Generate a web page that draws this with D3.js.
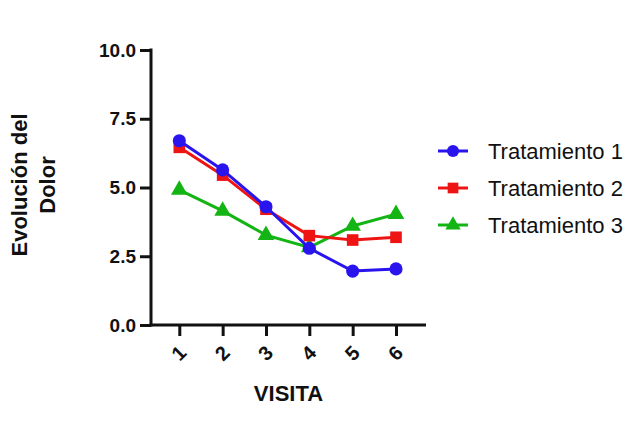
<!DOCTYPE html>
<html><head><meta charset="utf-8">
<script src="https://cdn.jsdelivr.net/npm/d3@7"></script>
<style>
body{margin:0;background:#fff;}
text{font-family:"Liberation Sans",Arial,sans-serif;}
</style></head>
<body>
<svg id="c" width="632" height="446"></svg>
<script>
const visits = [1, 2, 3, 4, 5, 6];
const seriesNames = ["Tratamiento 1", "Tratamiento 2", "Tratamiento 3"];
const t1 = [6.70, 5.64, 4.30, 2.79, 1.96, 2.04];
const t2 = [6.46, 5.45, 4.21, 3.25, 3.09, 3.19];
const t3 = [4.91, 4.15, 3.27, 2.82, 3.60, 4.03];
const yTicks = [0, 2.5, 5, 7.5, 10];
const colors = ["#2a14ee", "#ee1414", "#14b414"];
const symbols = [d3.symbolCircle, d3.symbolSquare, d3.symbolTriangle];
const symSizes = [135, 135, 120];

const svg = d3.select("#c");
const x = d3.scaleLinear().domain([1, 6]).range([179.3, 396]);
const y = d3.scaleLinear().domain([0, 10]).range([325, 50]);
const axisLeft = 151, axisRight = 426;

// y axis
const ya = svg.append("g").attr("transform", `translate(${axisLeft},0)`)
  .call(d3.axisLeft(y).tickValues(yTicks).tickFormat(d3.format(".1f")).tickSize(11).tickPadding(4));
ya.select(".domain").remove();
ya.append("line").attr("x1", 0).attr("x2", 0).attr("y1", y(10) - 1.5).attr("y2", y(0) + 1.5)
  .attr("stroke", "#111").attr("stroke-width", 3);
ya.selectAll(".tick line").attr("stroke", "#111").attr("stroke-width", 3);
ya.selectAll(".tick text").attr("font-size", 19).attr("font-weight", "bold").attr("fill", "#111");

// x axis
const xa = svg.append("g").attr("transform", `translate(0,${y(0)})`)
  .call(d3.axisBottom(x).tickValues(visits).tickFormat(d3.format("d")).tickSize(11).tickPadding(4));
xa.select(".domain").remove();
xa.append("line").attr("x1", axisLeft - 1.5).attr("x2", axisRight).attr("y1", 0).attr("y2", 0)
  .attr("stroke", "#111").attr("stroke-width", 3);
xa.selectAll(".tick line").attr("stroke", "#111").attr("stroke-width", 3);
xa.selectAll(".tick text")
  .attr("font-size", 20).attr("font-weight", "bold").attr("fill", "#111")
  .attr("text-anchor", "middle").attr("dy", null).attr("y", null)
  .attr("dominant-baseline", "central")
  .attr("transform", "translate(-1,28) rotate(-45)");

// axis titles
svg.append("text").attr("x", (axisLeft + axisRight) / 2).attr("y", 401)
  .attr("text-anchor", "middle").attr("font-size", 22).attr("font-weight", "bold").attr("fill", "#111")
  .text("VISITA");
const yl = svg.append("text").attr("transform", "translate(27,185) rotate(-90)")
  .attr("text-anchor", "middle").attr("font-size", 22).attr("font-weight", "bold").attr("fill", "#111");
yl.append("tspan").attr("x", 0).attr("y", 0).text("Evolución del");
yl.append("tspan").attr("x", 0).attr("y", 28).text("Dolor");

// series
const data = [t1, t2, t3];
const line = d3.line().x((d, i) => x(visits[i])).y(d => y(d));
[2, 1, 0].forEach(s => {
  const g = svg.append("g");
  g.append("path").datum(data[s]).attr("d", line).attr("fill", "none")
    .attr("stroke", colors[s]).attr("stroke-width", 3);
  g.selectAll("path.m").data(data[s]).enter().append("path").attr("class", "m")
    .attr("d", d3.symbol().type(symbols[s]).size(symSizes[s]))
    .attr("transform", (d, i) => `translate(${x(visits[i])},${y(d)})`)
    .attr("fill", colors[s]);
});

// legend
const lg = svg.append("g");
seriesNames.forEach((n, s) => {
  const cy = 151 + s * 37;
  lg.append("line").attr("x1", 438).attr("x2", 468).attr("y1", cy).attr("y2", cy)
    .attr("stroke", colors[s]).attr("stroke-width", 3);
  lg.append("path").attr("d", d3.symbol().type(symbols[s]).size(symSizes[s] * 0.85))
    .attr("transform", `translate(453,${cy})`).attr("fill", colors[s]);
  lg.append("text").attr("x", 488).attr("y", cy).attr("dominant-baseline", "central")
    .attr("font-size", 22).attr("fill", "#111").text(n);
});
</script>
</body></html>
